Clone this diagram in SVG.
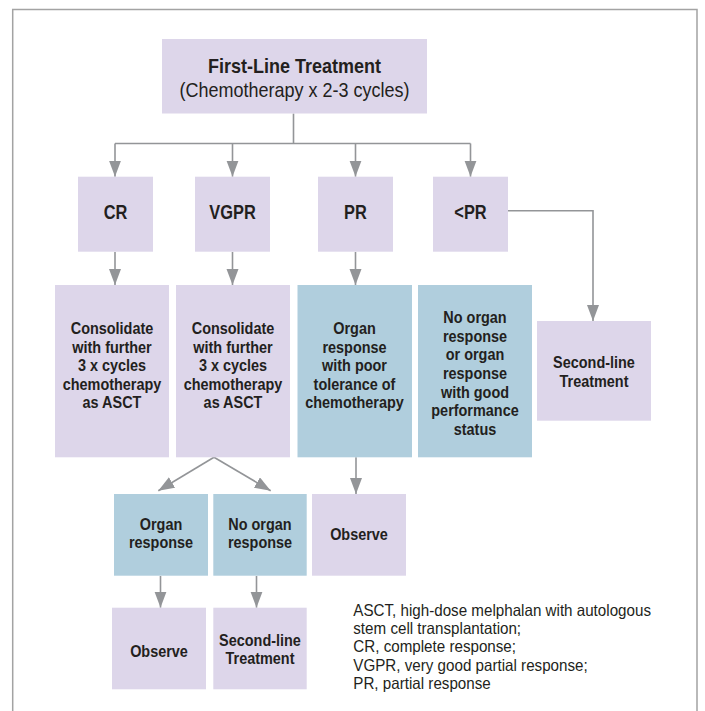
<svg xmlns="http://www.w3.org/2000/svg" width="705" height="711" viewBox="0 0 705 711">
<style>
  .lav { fill: #ddd6ea; }
  .blu { fill: #b0cedd; }
  text { font-family: 'Liberation Sans', Arial, sans-serif; fill: #231f20; text-anchor: middle; }
  .h1 { font-size: 20px; font-weight: bold; }
  .h2 { font-size: 20px; }
  .lbl { font-size: 20px; font-weight: bold; }
  .t { font-size: 17.4px; font-weight: bold; }
  .leg { font-size: 16.5px; text-anchor: start; }
  .con { fill: none; stroke: #939598; stroke-width: 1.6; }
</style>
<defs>
  <marker id="ah" markerUnits="userSpaceOnUse" markerWidth="17" markerHeight="13" refX="16" refY="6" orient="auto">
    <path d="M0,0 L16,6 L0,12 z" fill="#939598"/>
  </marker>
</defs>
<rect x="0" y="0" width="705" height="711" fill="#ffffff"/>
<path d="M12.7,711 V9.5 H697 V711" fill="none" stroke="#a3a3a3" stroke-width="1.5"/>

<g id="connectors">
  <path class="con" d="M293.5,113.5 V143.5 M115,143.5 H470.5"/>
  <path class="con" d="M115,143.5 V176.7" marker-end="url(#ah)"/>
  <path class="con" d="M232.5,143.5 V176.7" marker-end="url(#ah)"/>
  <path class="con" d="M355.5,143.5 V176.7" marker-end="url(#ah)"/>
  <path class="con" d="M470.5,143.5 V176.7" marker-end="url(#ah)"/>
  <path class="con" d="M115,252 V285" marker-end="url(#ah)"/>
  <path class="con" d="M232.5,252 V285" marker-end="url(#ah)"/>
  <path class="con" d="M355.5,252 V285" marker-end="url(#ah)"/>
  <path class="con" d="M508,210.7 H593 V321" marker-end="url(#ah)"/>
  <path class="con" d="M214,457.3 L158.3,490.7" marker-end="url(#ah)"/>
  <path class="con" d="M214,457.3 L270.7,490.7" marker-end="url(#ah)"/>
  <path class="con" d="M356,457.3 V494" marker-end="url(#ah)"/>
  <path class="con" d="M160.5,576 V607.7" marker-end="url(#ah)"/>
  <path class="con" d="M256.5,576 V607.7" marker-end="url(#ah)"/>
</g>

<g id="first-line">
  <rect class="lav" x="162" y="39" width="265" height="74.5"/>
  <text class="h1" transform="scale(0.9 1)" x="327.22" y="73.3">First-Line Treatment</text>
  <text class="h2" transform="scale(0.9 1)" x="327.22" y="96.7">(Chemotherapy x 2-3 cycles)</text>
</g>

<g id="cr">
  <rect class="lav" x="78" y="176.7" width="75" height="75"/>
  <text class="lbl" transform="scale(0.82 1)" x="140.85" y="219.3">CR</text>
</g>
<g id="vgpr">
  <rect class="lav" x="195" y="176.7" width="75" height="75"/>
  <text class="lbl" transform="scale(0.82 1)" x="283.54" y="219.3">VGPR</text>
</g>
<g id="pr">
  <rect class="lav" x="318" y="176.7" width="75" height="75"/>
  <text class="lbl" transform="scale(0.82 1)" x="433.54" y="219.3">PR</text>
</g>
<g id="lt-pr">
  <rect class="lav" x="433" y="176.7" width="75" height="75"/>
  <text class="lbl" transform="scale(0.82 1)" x="573.78" y="219.3">&lt;PR</text>
</g>

<g id="consolidate-cr">
  <rect class="lav" x="55" y="285" width="114" height="172.3"/>
  <text class="t" transform="scale(0.83 1)" x="134.94" y="334">Consolidate</text>
  <text class="t" transform="scale(0.83 1)" x="134.94" y="352.6">with further</text>
  <text class="t" transform="scale(0.83 1)" x="134.94" y="371.2">3 x cycles</text>
  <text class="t" transform="scale(0.83 1)" x="134.94" y="389.8">chemotherapy</text>
  <text class="t" transform="scale(0.83 1)" x="134.94" y="408.4">as ASCT</text>
</g>
<g id="consolidate-vgpr">
  <rect class="lav" x="176" y="285" width="114" height="172.3"/>
  <text class="t" transform="scale(0.83 1)" x="280.72" y="334">Consolidate</text>
  <text class="t" transform="scale(0.83 1)" x="280.72" y="352.6">with further</text>
  <text class="t" transform="scale(0.83 1)" x="280.72" y="371.2">3 x cycles</text>
  <text class="t" transform="scale(0.83 1)" x="280.72" y="389.8">chemotherapy</text>
  <text class="t" transform="scale(0.83 1)" x="280.72" y="408.4">as ASCT</text>
</g>
<g id="organ-poor-tolerance">
  <rect class="blu" x="297.5" y="285" width="114.5" height="172.3"/>
  <text class="t" transform="scale(0.83 1)" x="427.11" y="334">Organ</text>
  <text class="t" transform="scale(0.83 1)" x="427.11" y="352.6">response</text>
  <text class="t" transform="scale(0.83 1)" x="427.11" y="371.2">with poor</text>
  <text class="t" transform="scale(0.83 1)" x="427.11" y="389.8">tolerance of</text>
  <text class="t" transform="scale(0.83 1)" x="427.11" y="408.4">chemotherapy</text>
</g>
<g id="no-organ-good-status">
  <rect class="blu" x="418" y="285" width="114" height="172.3"/>
  <text class="t" transform="scale(0.83 1)" x="572.29" y="323.3">No organ</text>
  <text class="t" transform="scale(0.83 1)" x="572.29" y="341.9">response</text>
  <text class="t" transform="scale(0.83 1)" x="572.29" y="360.5">or organ</text>
  <text class="t" transform="scale(0.83 1)" x="572.29" y="379.1">response</text>
  <text class="t" transform="scale(0.83 1)" x="572.29" y="397.7">with good</text>
  <text class="t" transform="scale(0.83 1)" x="572.29" y="416.3">performance</text>
  <text class="t" transform="scale(0.83 1)" x="572.29" y="434.9">status</text>
</g>
<g id="second-line-right">
  <rect class="lav" x="537" y="321" width="114" height="99.7"/>
  <text class="t" transform="scale(0.83 1)" x="715.66" y="368.3">Second-line</text>
  <text class="t" transform="scale(0.83 1)" x="715.66" y="387.3">Treatment</text>
</g>

<g id="organ-response">
  <rect class="blu" x="114" y="494" width="94" height="81.7"/>
  <text class="t" transform="scale(0.83 1)" x="193.98" y="530">Organ</text>
  <text class="t" transform="scale(0.83 1)" x="193.98" y="548.4">response</text>
</g>
<g id="no-organ-response">
  <rect class="blu" x="213.3" y="494" width="93.4" height="81.7"/>
  <text class="t" transform="scale(0.83 1)" x="313.25" y="530">No organ</text>
  <text class="t" transform="scale(0.83 1)" x="313.25" y="548.4">response</text>
</g>
<g id="observe-pr">
  <rect class="lav" x="312" y="494" width="94" height="81.7"/>
  <text class="t" transform="scale(0.83 1)" x="432.53" y="540">Observe</text>
</g>
<g id="observe-bottom">
  <rect class="lav" x="112" y="607.7" width="94" height="81.6"/>
  <text class="t" transform="scale(0.83 1)" x="191.57" y="657.3">Observe</text>
</g>
<g id="second-line-bottom">
  <rect class="lav" x="213.3" y="607.7" width="93.4" height="81.6"/>
  <text class="t" transform="scale(0.83 1)" x="313.25" y="646">Second-line</text>
  <text class="t" transform="scale(0.83 1)" x="313.25" y="664.4">Treatment</text>
</g>

<g id="legend">
  <text class="leg" transform="scale(0.92 1)" x="384.02" y="615.7">ASCT, high-dose melphalan with autologous</text>
  <text class="leg" transform="scale(0.92 1)" x="384.02" y="634">stem cell transplantation;</text>
  <text class="leg" transform="scale(0.92 1)" x="384.02" y="652.3">CR, complete response;</text>
  <text class="leg" transform="scale(0.92 1)" x="384.02" y="670.7">VGPR, very good partial response;</text>
  <text class="leg" transform="scale(0.92 1)" x="384.02" y="689">PR, partial response</text>
</g>
</svg>
